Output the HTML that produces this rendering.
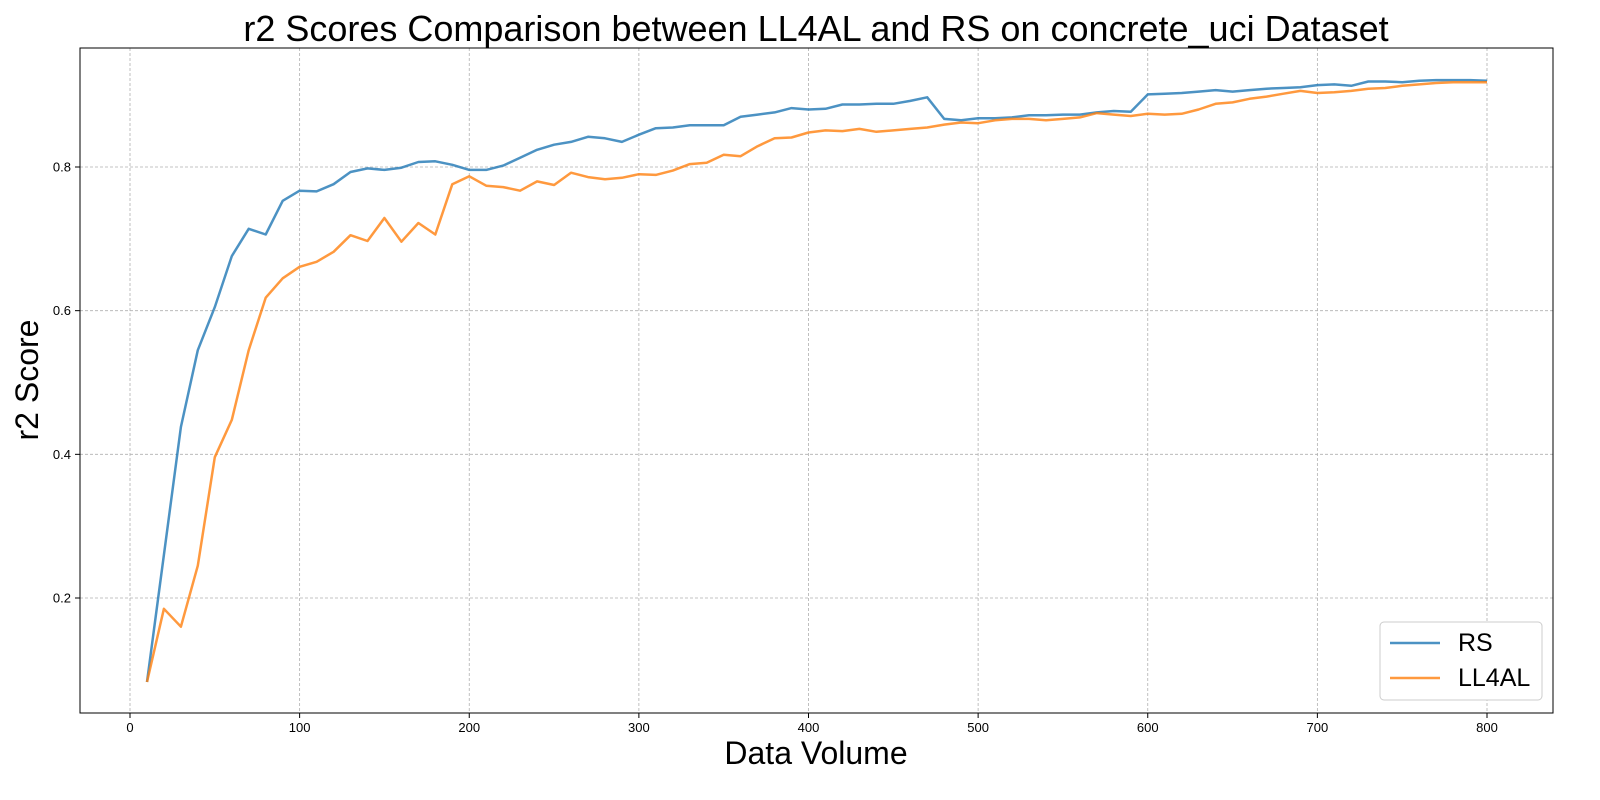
<!DOCTYPE html>
<html><head><meta charset="utf-8"><style>
body{margin:0;background:#fff;}
svg{display:block;font-family:"Liberation Sans","DejaVu Sans",sans-serif;}
</style></head><body>
<svg id="chart" width="1600" height="800" viewBox="0 0 1600 800" xmlns="http://www.w3.org/2000/svg">
<rect width="1600" height="800" fill="#fff"/>
<text x="816" y="41" font-size="36" text-anchor="middle" fill="#000">r2 Scores Comparison between LL4AL and RS on concrete_uci Dataset</text>
<g id="grid"></g>
<g id="lines"></g>
<rect x="80" y="48" width="1473" height="665" fill="none" stroke="#000" stroke-width="1"/>
<g id="ticks"></g>
<text x="816" y="764" font-size="32" text-anchor="middle">Data Volume</text>
<text transform="translate(38,380) rotate(-90)" font-size="32" text-anchor="middle">r2 Score</text>
<g>
<rect x="1380" y="622" width="162" height="78" rx="4" fill="#fff" stroke="#ccc"/>
<line x1="1390" y1="643" x2="1440" y2="643" stroke="#1f77b4" stroke-opacity="0.8" stroke-width="2.5"/>
<text x="1458" y="651" font-size="25">RS</text>
<line x1="1390" y1="678" x2="1440" y2="678" stroke="#ff7f0e" stroke-opacity="0.8" stroke-width="2.5"/>
<text x="1458" y="686" font-size="25">LL4AL</text>
</g>
</svg>
<script>
const xValues = [];
for (let i = 10; i <= 800; i += 10) xValues.push(i);
const rsValues = [0.083,0.26,0.438,0.545,0.605,0.676,0.714,0.706,0.753,0.767,0.766,0.776,0.793,0.798,0.796,0.799,0.807,0.808,0.803,0.796,0.796,0.802,0.813,0.824,0.831,0.835,0.842,0.840,0.835,0.845,0.854,0.855,0.858,0.858,0.858,0.870,0.873,0.876,0.882,0.880,0.881,0.887,0.887,0.888,0.888,0.892,0.897,0.867,0.865,0.868,0.868,0.869,0.872,0.872,0.873,0.873,0.876,0.878,0.877,0.901,0.902,0.903,0.905,0.907,0.905,0.907,0.909,0.910,0.911,0.914,0.915,0.913,0.919,0.919,0.918,0.920,0.921,0.921,0.921,0.920];
const ll4alValues = [0.083,0.185,0.160,0.245,0.396,0.448,0.545,0.618,0.645,0.661,0.668,0.682,0.705,0.697,0.729,0.696,0.722,0.706,0.776,0.787,0.774,0.772,0.767,0.780,0.775,0.792,0.786,0.783,0.785,0.790,0.789,0.795,0.804,0.806,0.817,0.815,0.829,0.840,0.841,0.848,0.851,0.850,0.853,0.849,0.851,0.853,0.855,0.859,0.862,0.861,0.865,0.867,0.867,0.865,0.867,0.869,0.875,0.873,0.871,0.874,0.873,0.874,0.880,0.888,0.890,0.895,0.898,0.902,0.906,0.903,0.904,0.906,0.909,0.910,0.913,0.915,0.917,0.918,0.918,0.918];
const xTicks = [0,100,200,300,400,500,600,700,800];
const yTicks = [0.2,0.4,0.6,0.8];

const NS = "http://www.w3.org/2000/svg";
function xScale(v){ return 130 + v * (1487 - 130) / 800; }
function yScale(v){ return 598 - (v - 0.2) * (598 - 167) / 0.6; }
function mk(tag, attrs, parent){ const e = document.createElementNS(NS, tag); for (const k in attrs) e.setAttribute(k, attrs[k]); parent.appendChild(e); return e; }

const grid = document.getElementById('grid');
const ticks = document.getElementById('ticks');
xTicks.forEach(t => {
  const x = xScale(t);
  const g = mk('line', {x1:x, x2:x, y1:48, y2:713, stroke:'#b0b0b0', 'stroke-width':0.8, 'stroke-dasharray':'3,2'}, grid);
  
  
  mk('line', {x1:x, x2:x, y1:713, y2:718, stroke:'#000'}, ticks);
  const l = mk('text', {x:x, y:732, 'font-size':13, 'text-anchor':'middle'}, ticks);
  l.textContent = t;
  
  
});
yTicks.forEach(t => {
  const y = yScale(t);
  const g = mk('line', {x1:80, x2:1553, y1:y, y2:y, stroke:'#b0b0b0', 'stroke-width':0.8, 'stroke-dasharray':'3,2'}, grid);
  
  
  mk('line', {x1:75, x2:80, y1:y, y2:y, stroke:'#000'}, ticks);
  const l = mk('text', {x:71, y:y+4.5, 'font-size':13, 'text-anchor':'end'}, ticks);
  l.textContent = t.toFixed(1);
  
  
});
const lines = document.getElementById('lines');
function drawSeries(vals, color, name){
  const d = vals.map((v,i) => (i ? 'L' : 'M') + xScale(xValues[i]).toFixed(1) + ',' + yScale(v).toFixed(1)).join(' ');
  const p = mk('path', {d:d, fill:'none', stroke:color, 'stroke-opacity':0.8, 'stroke-width':2.5, 'stroke-linejoin':'round'}, lines);
  
  
}
drawSeries(rsValues, '#1f77b4', 'rs-line');
drawSeries(ll4alValues, '#ff7f0e', 'll4al-line');
</script>
</body></html>
